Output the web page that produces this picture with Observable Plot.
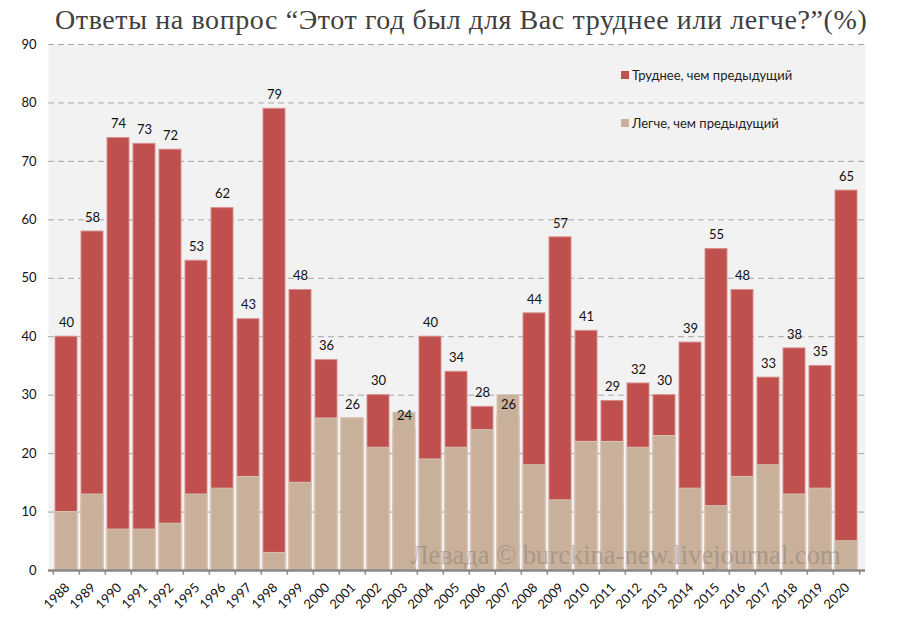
<!DOCTYPE html>
<html><head><meta charset="utf-8">
<script src="https://cdn.jsdelivr.net/npm/d3@7"></script>
<script src="https://cdn.jsdelivr.net/npm/@observablehq/plot@0.6"></script>
<style>
body{margin:0;background:#fff;}
#wrap{position:relative;width:900px;height:629px;font-family:Lato,"Noto Sans",sans-serif;}
#title{position:absolute;left:55px;top:4px;font-family:"Liberation Serif",serif;font-size:28px;letter-spacing:0.6px;color:#404040;white-space:nowrap;}
.leg{position:absolute;font-size:13px;color:#222;display:flex;align-items:center;}
.sw{width:8px;height:8px;margin-right:3px;display:inline-block;}
</style></head>
<body><div id="wrap"><div id="title">Ответы на вопрос “Этот год был для Вас труднее или легче?”(%)</div></div>
<script>
const years = ["1988","1989","1990","1991","1992","1995","1996","1997","1998","1999","2000","2001","2002","2003","2004","2005","2006","2007","2008","2009","2010","2011","2012","2013","2014","2015","2016","2017","2018","2019","2020"];
const harder = [40,58,74,73,72,53,62,43,79,48,36,26,30,24,40,34,28,26,44,57,41,29,32,30,39,55,48,33,38,35,65];
const easier = [10,13,7,7,8,13,14,16,3,15,26,26,21,27,19,21,24,30,18,12,22,22,21,23,14,11,16,18,13,14,5];
const seriesNames = ["Труднее, чем предыдущий","Легче, чем предыдущий"];
const colors = ["#c0504d","#c8b09a"];
const yTicks = [0,10,20,30,40,50,60,70,80,90];
const watermark = "Левада © burckina-new.livejournal.com";

const data = years.map((y,i)=>({year:y, harder:harder[i], easier:easier[i]}));
const W=900,H=629,mL=48,mR=35,mT=44,mB=59;
const pin=0.14,pout=0.07;
const step=(W-mL-mR)/(years.length - pin + 2*pout);
const tickAt = years.map((y,i)=>({year:y,dx:-step/2})).concat([{year:years[years.length-1],dx:step/2}]);

const plot = Plot.plot({
  width:W,height:H,marginLeft:mL,marginRight:mR,marginTop:mT,marginBottom:mB,
  style:{fontFamily:"Lato, 'Noto Sans', sans-serif",fontSize:"13px",color:"#111",background:"transparent"},
  x:{domain:years,paddingInner:pin,paddingOuter:pout,label:null},
  y:{domain:[0,90],label:null},
  marks:[
    Plot.frame({fill:"#f2f2f2",stroke:null}),
    Plot.gridY(yTicks,{stroke:"#a6a6a6",strokeOpacity:1,strokeDasharray:"6,4",strokeWidth:1}),
    Plot.axisY(yTicks,{tickSize:0,tickPadding:12,fontSize:13,fill:"#111",label:null}),
    Plot.barY(data,{x:"year",y:"harder",fill:colors[0],stroke:"#d88f8c",strokeWidth:1}),
    Plot.barY(data,{x:"year",y:"easier",fill:colors[1],stroke:"#d6c4b3",strokeWidth:1}),
    Plot.text(data,{x:"year",y:"harder",text:d=>String(d.harder),dy:-14,fontSize:13,fill:"#111"}),
    Plot.text([watermark],{frameAnchor:"bottom-right",dx:-25,dy:-7,text:d=>d,fontFamily:"'Liberation Serif', serif",fontSize:26.5,fill:"#6e6e6e",fillOpacity:0.38,textAnchor:"end",lineAnchor:"bottom"}),
    Plot.ruleY([0],{stroke:"#888",strokeWidth:2.5}),
    ...tickAt.map(t=>Plot.ruleX([t],{x:"year",dx:t.dx,y1:0,y2:-0.8,stroke:"#888",strokeWidth:1.5})),
    Plot.axisX({tickSize:0,tickRotate:-45,tickPadding:8,dy:7,dx:1,fontSize:13,fill:"#111",label:null})
  ]
});
const wrap=document.getElementById("wrap");
wrap.appendChild(plot);
plot.style.position="absolute";plot.style.left="0";plot.style.top="0";
const legPos=[[621,67],[621,115]];
seriesNames.forEach((n,i)=>{
  const d=document.createElement("div");d.className="leg";
  d.style.left=legPos[i][0]+"px";d.style.top=legPos[i][1]+"px";
  d.innerHTML=`<span class="sw" style="background:${colors[i]}"></span>${n}`;
  wrap.appendChild(d);
});
</script></body></html>
